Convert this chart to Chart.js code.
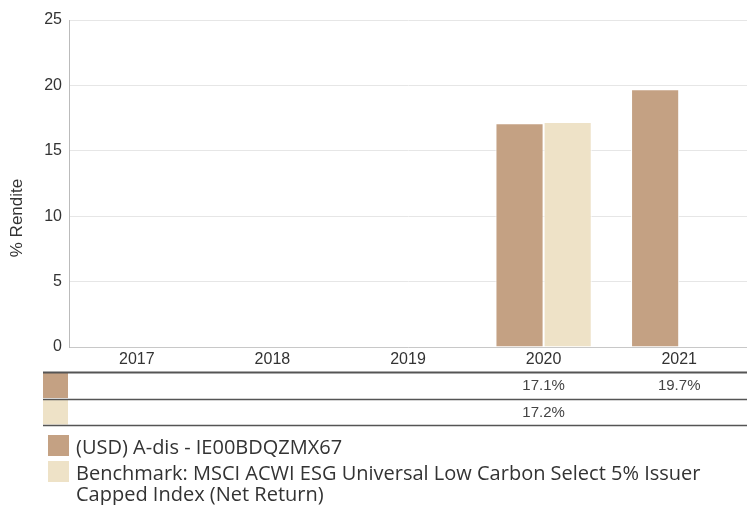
<!DOCTYPE html>
<html>
<head>
<meta charset="utf-8">
<script src="https://cdn.jsdelivr.net/npm/chart.js@4.4.1/dist/chart.umd.min.js"></script>
<style>
  html, body { margin:0; padding:0; background:#fff; }
  #wrap { position:relative; width:747px; height:505px; overflow:hidden; }
</style>
</head>
<body>
<div id="wrap"><canvas id="perfChart"></canvas></div>
<script>
// ── Dữ liệu ─────────────────────────────────────────
const years = ['2017','2018','2019','2020','2021'];
const fundValues = [null, null, null, 17.1, 19.7];
const benchValues = [null, null, null, 17.2, null];
const fundLabel = '(USD) A-dis - IE00BDQZMX67';
const benchLabel = 'Benchmark: MSCI ACWI ESG Universal Low Carbon Select 5% Issuer Capped Index (Net Return)';
const yTitle = '% Rendite';

const fundColor = '#c4a183';
const benchColor = '#eee2c7';
const axisFont = '"Liberation Sans", Arial, sans-serif';

// y title, table + legend
const tableLegend = {
    id: 'tableLegend',
    afterDraw(chart) {
        const ctx = chart.ctx;
        const x = chart.scales.x;
        const ds = chart.data.datasets;
        const left = 43, right = 747, top = 372, rowH = 26.5;
        ctx.save();

        // y axis title
        ctx.save();
        ctx.translate(17, 218);
        ctx.rotate(-Math.PI / 2);
        ctx.fillStyle = '#333';
        ctx.font = '17px ' + axisFont;
        ctx.textAlign = 'center';
        ctx.textBaseline = 'middle';
        ctx.fillText(yTitle, 0, 0);
        ctx.restore();

        // rows
        ds.forEach((d, i) => {
            const y0 = top + i * rowH;
            ctx.fillStyle = d.backgroundColor;
            ctx.fillRect(left, y0 + 1, 25, rowH - 1.5);
            ctx.fillStyle = '#444';
            ctx.font = '15px ' + axisFont;
            ctx.textAlign = 'center';
            ctx.textBaseline = 'middle';
            d.data.forEach((v, j) => {
                if (v == null) return;
                ctx.fillText(v.toFixed(1) + '%', x.getPixelForValue(j), y0 + rowH / 2 + 1);
            });
        });
        // lines
        ctx.strokeStyle = '#555';
        for (let i = 0; i <= ds.length; i++) {
            const y = Math.round(top + i * rowH) + 0.5;
            ctx.lineWidth = i === 0 ? 2 : 1.5;
            ctx.beginPath(); ctx.moveTo(left, y); ctx.lineTo(right, y); ctx.stroke();
        }

        // legend
        ctx.font = '20px "Open Sans", sans-serif';
        ctx.textAlign = 'left';
        ctx.textBaseline = 'middle';
        let ly = 448;
        const maxW = 665;
        ds.forEach(d => {
            ctx.fillStyle = d.backgroundColor;
            ctx.fillRect(48, ly - 13, 21, 21);
            ctx.fillStyle = '#333';
            let line = '';
            d.label.split(' ').forEach(w => {
                const t = line ? line + ' ' + w : w;
                if (ctx.measureText(t).width > maxW && line) {
                    ctx.fillText(line, 76, ly);
                    ly += 21;
                    line = w;
                } else line = t;
            });
            ctx.fillText(line, 76, ly);
            ly += 26;
        });
        ctx.restore();
    }
};

new Chart(document.getElementById('perfChart'), {
    type: 'bar',
    data: {
        labels: years,
        datasets: [
            { label: fundLabel, data: fundValues, backgroundColor: fundColor, borderColor: '#fff', borderWidth: 1 },
            { label: benchLabel, data: benchValues, backgroundColor: benchColor, borderColor: '#fff', borderWidth: 1 }
        ]
    },
    options: {
        responsive: true,
        maintainAspectRatio: false,
        animation: false,
        barPercentage: 1,
        categoryPercentage: 0.71,
        layout: { padding: { top: 20, right: -2, bottom: 133, left: 0 } },
        plugins: { legend: { display: false }, tooltip: { enabled: false } },
        scales: {
            x: {
                grid: { display: false, drawTicks: false },
                border: { display: true, color: '#c8c8c8' },
                ticks: { color: '#333', font: { size: 16, family: axisFont }, padding: 3 },
                afterFit: s => { s.height = 25; }
            },
            y: {
                min: 0, max: 25,
                grid: { color: '#e6e6e6', drawTicks: false },
                border: { display: true, color: '#bbb' },
                ticks: { stepSize: 5, color: '#333', font: { size: 16, family: axisFont }, padding: 7 },
                afterFit: s => { s.width = 69; }
            }
        }
    },
    plugins: [tableLegend]
});
</script>
</body>
</html>
